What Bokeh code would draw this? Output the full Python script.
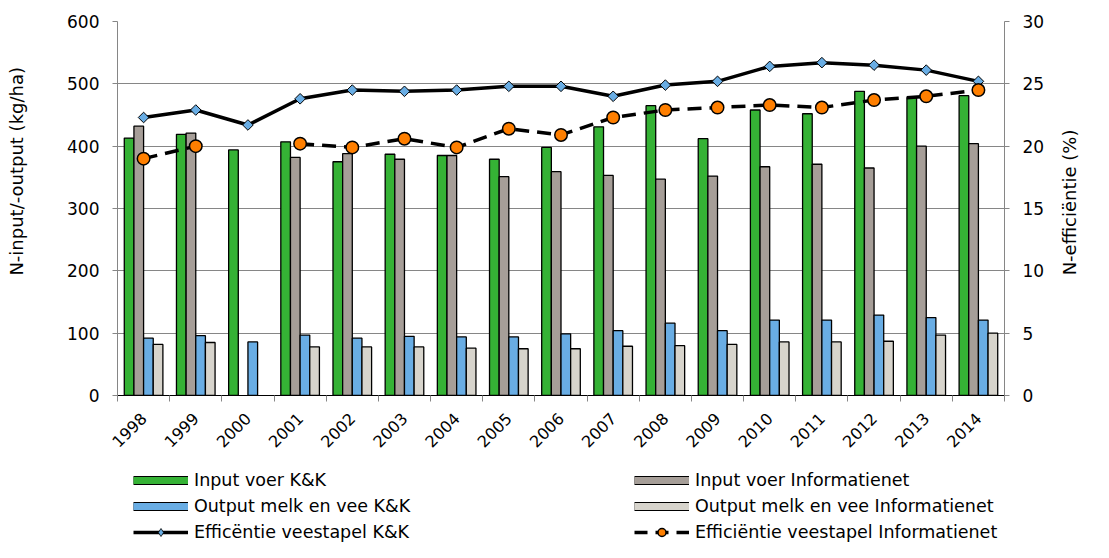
import math
from bokeh.plotting import figure
from bokeh.layouts import column
from bokeh.models import (Range1d, LinearAxis, FixedTicker, SingleIntervalTicker,
                          Legend, LegendItem, ColumnDataSource)
from bokeh.embed import file_html
from bokeh.resources import INLINE

nan = float("nan")

years = ["1998", "1999", "2000", "2001", "2002", "2003", "2004", "2005", "2006",
         "2007", "2008", "2009", "2010", "2011", "2012", "2013", "2014"]
input_kk = [413, 419, 394, 407, 375, 387, 385, 379, 398, 431, 465, 412, 458, 452, 488, 478, 481]
input_info = [432, 421, nan, 382, 388, 379, 385, 351, 359, 353, 347, 352, 367, 371, 365, 400, 404]
output_kk = [92, 96, 86, 97, 92, 95, 94, 94, 99, 104, 116, 104, 121, 121, 129, 125, 121]
output_info = [82, 85, nan, 78, 78, 78, 76, 75, 75, 79, 80, 82, 86, 86, 87, 97, 100]
eff_kk = [22.3, 22.9, 21.7, 23.8, 24.5, 24.4, 24.5, 24.8, 24.8, 24.0, 24.9, 25.2, 26.4, 26.7, 26.5, 26.1, 25.2]
eff_info = [19.0, 20.0, nan, 20.2, 19.9, 20.6, 19.9, 21.4, 20.9, 22.3, 22.9, 23.1, 23.3, 23.1, 23.7, 24.0, 24.5]

labels = ["Input voer K&K", "Input voer Informatienet",
          "Output melk en vee K&K", "Output melk en vee Informatienet",
          "Efficëntie veestapel K&K", "Efficiëntie veestapel Informatienet"]
y_label = "N-input/-output (kg/ha)"
y2_label = "N-efficiëntie (%)"

GREEN = "#35B235"
GREY = "#A69E98"
BLUE = "#69ADE4"
LIGHT = "#D7D4CC"
ORANGE = "#FF7F00"
GRIDC = "#868686"
FONT = "DejaVu Sans"
DASH = "14 8"
NBSP = "\u00a0"

n = len(years)
centers = [i + 0.5 for i in range(n)]
bounds = [float(i) for i in range(n + 1)]

p = figure(width=1093, height=460, x_range=Range1d(0, n), y_range=Range1d(0, 600),
           output_backend="svg", toolbar_location=None,
           min_border_left=117, min_border_right=84, min_border_top=21, min_border_bottom=65)
p.outline_line_color = None
p.background_fill_color = "white"
p.extra_y_ranges = {"eff": Range1d(0, 30)}

bw = 0.185
series = [(input_kk, GREEN), (input_info, GREY), (output_kk, BLUE), (output_info, LIGHT)]
for k, (vals, col) in enumerate(series):
    off = (k - 1.5) * bw
    src = ColumnDataSource(dict(x=[c + off for c in centers], top=vals))
    p.vbar(x="x", top="top", bottom=0, width=bw, source=src, fill_color=col,
           line_color="black", line_width=1.3)

src_kk = ColumnDataSource(dict(x=centers, y=eff_kk))
src_info = ColumnDataSource(dict(x=centers, y=eff_info))
p.line("x", "y", source=src_kk, y_range_name="eff", line_color="black", line_width=3.5)
p.scatter("x", "y", source=src_kk, y_range_name="eff", marker="square", angle=math.pi / 4,
          size=7.5, fill_color=BLUE, line_color="black", line_width=1)
p.line("x", "y", source=src_info, y_range_name="eff", line_color="black", line_width=3.5,
       line_dash=DASH)
p.scatter("x", "y", source=src_info, y_range_name="eff", marker="circle", size=12.5,
          fill_color=ORANGE, line_color="black", line_width=1.5)

# axes
yax = p.yaxis[0]
yax.ticker = SingleIntervalTicker(interval=100, num_minor_ticks=0)
# leading no-break spaces shift the visible label upwards, as in the original
yax.axis_label = NBSP * 13 + y_label
ax_r = LinearAxis(y_range_name="eff", ticker=SingleIntervalTicker(interval=5, num_minor_ticks=0))
p.add_layout(ax_r, "right")
for ax in (yax, ax_r):
    ax.axis_line_color = GRIDC
    ax.major_tick_line_color = GRIDC
    ax.major_tick_out = 5
    ax.major_tick_in = 0
    ax.minor_tick_line_color = None
    ax.major_label_standoff = 13
    ax.major_label_text_font = FONT
    ax.major_label_text_font_size = "17px"
    ax.major_label_text_color = "black"
    ax.axis_label_text_font = FONT
    ax.axis_label_text_font_size = "18px"
    ax.axis_label_text_font_style = "normal"
    ax.axis_label_text_color = "black"
yax.axis_label_standoff = 37
ax_r.axis_label_standoff = 22
props = ax_r.properties()
if "axis_label_orientation" in props:
    ax_r.axis_label_orientation = math.pi / 2
if "axis_label_align" in props:
    ax_r.axis_label_align = "start"
    ax_r.axis_label = NBSP * 21 + y2_label
else:
    ax_r.axis_label = y2_label

xax = p.xaxis[0]
xax.ticker = FixedTicker(ticks=centers, minor_ticks=bounds)
xax.major_label_overrides = {c: y for c, y in zip(centers, years)}
xax.major_tick_line_color = None
xax.major_tick_out = 0
xax.major_tick_in = 0
xax.minor_tick_line_color = GRIDC
xax.minor_tick_out = 6
xax.minor_tick_in = 0
xax.axis_line_color = "black"
xax.major_label_orientation = math.pi / 4
xax.major_label_text_font = FONT
xax.major_label_text_font_size = "16px"
xax.major_label_text_color = "black"
xax.major_label_standoff = 14

p.xgrid.visible = False
p.ygrid.ticker = yax.ticker
p.ygrid.grid_line_color = GRIDC
p.ygrid.grid_line_width = 1

# legend strip below the chart (its sample glyphs sit outside the visible range)
q = figure(width=1093, height=82, x_range=Range1d(0, 1), y_range=Range1d(0, 1),
           output_backend="svg", toolbar_location=None,
           x_axis_location=None, y_axis_location=None, min_border=0)
q.outline_line_color = None
q.grid.visible = False
hx, hy = [-5, -4], [-5, -5]

def patch_item(color):
    b = q.line(hx, hy, line_color="black", line_width=9)
    f = q.line(hx, hy, line_color=color, line_width=7)
    return [b, f]

lk = q.line(hx, hy, line_color="black", line_width=3.5)
mk = q.scatter(hx, hy, marker="diamond", size=10, fill_color=BLUE,
               line_color="black", line_width=0.8)
li = q.line(hx, hy, line_color="black", line_width=3.5, line_dash="13 8")
mi = q.scatter(hx, hy, marker="circle", size=9, fill_color=ORANGE, line_color="black",
               line_width=1.5)

items = [
    LegendItem(label=labels[0], renderers=patch_item(GREEN)),
    LegendItem(label=labels[1], renderers=patch_item(GREY)),
    LegendItem(label=labels[2], renderers=patch_item(BLUE)),
    LegendItem(label=labels[3], renderers=patch_item(LIGHT)),
    LegendItem(label=labels[4], renderers=[lk, mk]),
    LegendItem(label=labels[5], renderers=[li, mi]),
]
legend = Legend(items=items, location=(16, 0), orientation="horizontal", ncols=2,
                border_line_color=None, background_fill_alpha=0, padding=0, margin=0,
                spacing=6, glyph_width=55, glyph_height=20, label_height=20,
                label_standoff=6, label_width=434,
                label_text_font=FONT, label_text_font_size="17.5px", label_text_color="black")
q.add_layout(legend)

layout = column(p, q, spacing=0)
open("out.html", "w").write(file_html(layout, INLINE))
